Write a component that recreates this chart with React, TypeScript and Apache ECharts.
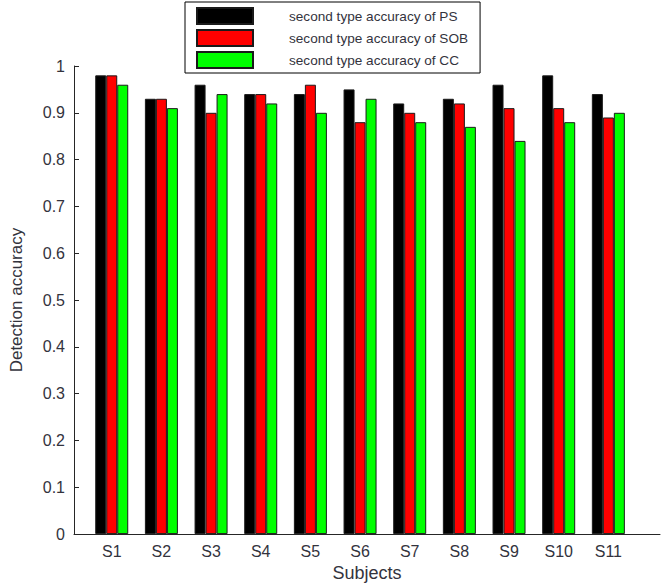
import React, { useEffect, useRef } from "react";
import * as echarts from "echarts";

const subjects = ["S1", "S2", "S3", "S4", "S5", "S6", "S7", "S8", "S9", "S10", "S11"];
const psValues = [0.98, 0.93, 0.96, 0.94, 0.94, 0.95, 0.92, 0.93, 0.96, 0.98, 0.94];
const sobValues = [0.98, 0.93, 0.90, 0.94, 0.96, 0.88, 0.90, 0.92, 0.91, 0.91, 0.89];
const ccValues = [0.96, 0.91, 0.94, 0.92, 0.90, 0.93, 0.88, 0.87, 0.84, 0.88, 0.90];
const seriesNames = [
  "second type accuracy of PS",
  "second type accuracy of SOB",
  "second type accuracy of CC",
];
const seriesColors = ["#000000", "#ff0000", "#00ff00"];

export default function App() {
  const ref = useRef<HTMLDivElement>(null);
  useEffect(() => {
    if (!ref.current) return;
    const chart = echarts.init(ref.current, null, { renderer: "svg" });
    const positions = subjects.map((_, i) => i + 1);
    const font = "Liberation Sans";
    const textColor = "#33333d";
    const allValues = [psValues, sobValues, ccValues];
    chart.setOption({
      animation: false,
      backgroundColor: "#ffffff",
      textStyle: { fontFamily: font },
      grid: { left: 67, right: 2, top: 66, bottom: 52, containLabel: false },
      legend: {
        orient: "vertical",
        left: 185,
        top: 2,
        width: 292,
        padding: [5, 12, 4, 11],
        itemWidth: 56,
        itemHeight: 16,
        itemGap: 4,
        borderColor: "#000",
        borderWidth: 1,
        backgroundColor: "#fff",
        textStyle: { fontSize: 13.6, color: textColor, fontFamily: font, padding: [0, 0, 0, 31] },
        data: seriesNames.map((n) => ({ name: n, icon: "rect" })),
      },
      xAxis: {
        type: "value",
        min: 0.24,
        max: 12.04,
        name: "Subjects",
        nameLocation: "middle",
        nameGap: 29,
        nameTextStyle: { fontSize: 18, color: textColor, fontFamily: font },
        axisLine: { show: true, lineStyle: { color: "#262626", width: 1 } },
        axisTick: { show: false },
        splitLine: { show: false },
        axisLabel: {
          customValues: positions,
          formatter: (v: number) => subjects[Math.round(v) - 1] ?? "",
          fontSize: 16,
          color: textColor,
          margin: 9,
          fontFamily: font,
        },
      },
      yAxis: {
        type: "value",
        min: 0,
        max: 1,
        interval: 0.1,
        name: "Detection accuracy",
        nameLocation: "middle",
        nameGap: 49,
        nameRotate: 90,
        nameTextStyle: { fontSize: 17, color: textColor, fontFamily: font },
        axisLine: { show: true, lineStyle: { color: "#262626", width: 1 } },
        axisTick: { show: true, inside: true, length: 5, lineStyle: { color: "#262626" } },
        splitLine: { show: false },
        axisLabel: {
          fontSize: 16,
          color: textColor,
          margin: 9,
          fontFamily: font,
          formatter: (v: number) => String(Math.round(v * 10) / 10),
        },
      },
      series: allValues.map((vals, si) => ({
        name: seriesNames[si],
        type: "bar",
        barWidth: 11,
        barGap: "0%",
        itemStyle: { color: seriesColors[si], borderColor: "#1a1a1a", borderWidth: 1 },
        data: vals.map((v, i) => [positions[i], v]),
      })),
    });
    return () => chart.dispose();
  }, []);
  return (
    <div
      ref={ref}
      style={{ position: "fixed", left: 0, top: 0, width: 662, height: 587 }}
    />
  );
}
